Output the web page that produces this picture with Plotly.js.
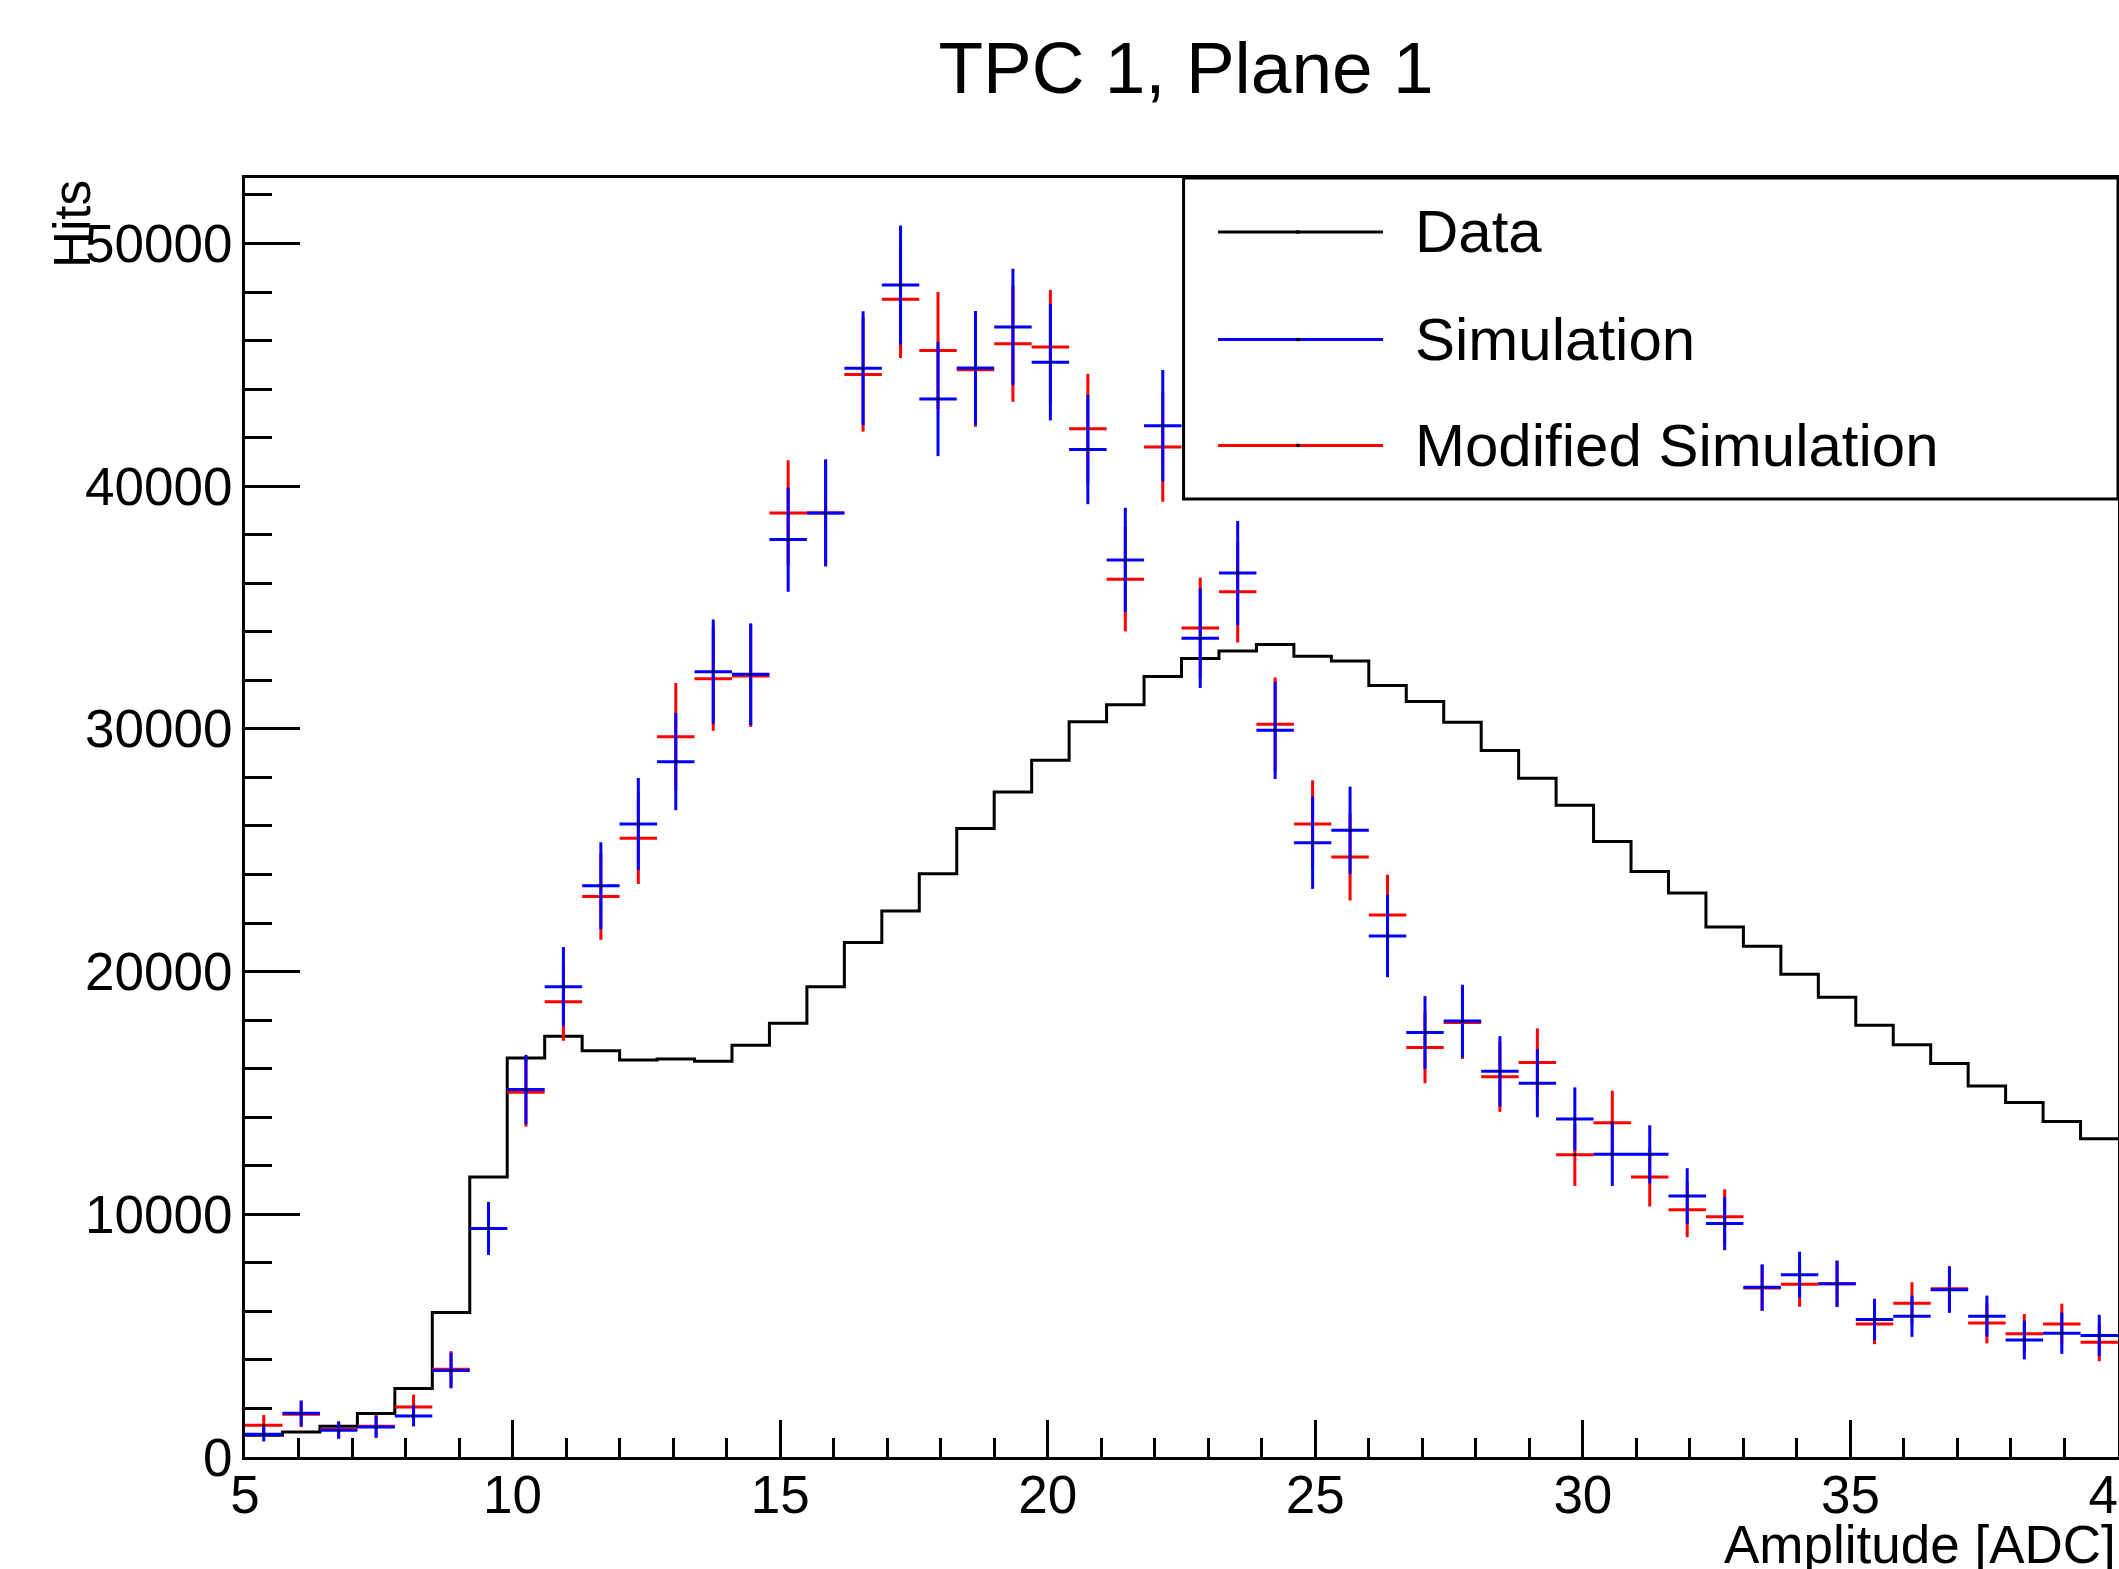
<!DOCTYPE html>
<html>
<head>
<meta charset="utf-8">
<script src="https://cdn.plot.ly/plotly-3.0.1.min.js"></script>
<style>html,body{margin:0;padding:0;background:#fff;}#chart{width:2119px;height:1569px;}</style>
</head>
<body>
<div id="chart"></div>
<script>
// Bin centres (ADC amplitude), bin width 0.7
const binCenters = [5.35, 6.05, 6.75, 7.45, 8.15, 8.85, 9.55, 10.25, 10.95, 11.65,
  12.35, 13.05, 13.75, 14.45, 15.15, 15.85, 16.55, 17.25, 17.95, 18.65,
  19.35, 20.05, 20.75, 21.45, 22.15, 22.85, 23.55, 24.25, 24.95, 25.65,
  26.35, 27.05, 27.75, 28.45, 29.15, 29.85, 30.55, 31.25, 31.95, 32.65,
  33.35, 34.05, 34.75, 35.45, 36.15, 36.85, 37.55, 38.25, 38.95, 39.65];
const binHalfWidth = 0.35;

const dataHits = [900, 1030, 1270, 1790, 2820, 5950, 11540, 16440, 17340, 16740,
  16360, 16400, 16310, 16970, 17870, 19380, 21200, 22500, 24030, 25900,
  27400, 28710, 30300, 31000, 32160, 32900, 33210, 33480, 32990, 32800,
  31790, 31130, 30270, 29110, 27970, 26850, 25360, 24120, 23240, 21840,
  21050, 19890, 18940, 17790, 16990, 16210, 15290, 14610, 13820, 13110];

const simHits = [940, 1800, 1100, 1240, 1690, 3560, 9420, 15140, 19380, 23540,
  26080, 28650, 32360, 32250, 37800, 38900, 44860, 48290, 43590, 44870,
  46560, 45110, 41510, 36960, 42490, 33740, 36420, 29940, 25310, 25820,
  21470, 17490, 17960, 15890, 15400, 13930, 12470, 12470, 10750, 9620,
  6990, 7510, 7140, 5670, 5800, 6890, 5800, 4820, 5100, 5010];
const simErr = [300, 530, 350, 450, 430, 730, 1090, 1430, 1630, 1790,
  1900, 2000, 2150, 2100, 2150, 2200, 2350, 2450, 2350, 2350,
  2400, 2400, 2250, 2150, 2300, 2050, 2150, 2000, 1900, 1800,
  1700, 1500, 1500, 1450, 1400, 1300, 1300, 1200, 1150, 1100,
  950, 950, 950, 850, 850, 950, 850, 800, 850, 850];

const modHits = [1310, 1760, 1130, 1270, 2060, 3620, 9420, 15030, 18760, 23090,
  25490, 29680, 32070, 32180, 38900, 38900, 44600, 47700, 45590, 44800,
  45870, 45740, 42370, 36170, 41620, 34160, 35650, 30190, 26080, 24720,
  22330, 16870, 17900, 15670, 16250, 12450, 13770, 11540, 10190, 9900,
  6960, 7120, 7140, 5480, 6330, 6930, 5520, 5080, 5480, 4730];
const modErr = [420, 530, 350, 460, 510, 740, 1090, 1420, 1610, 1780,
  1880, 2210, 2150, 2100, 2170, 2200, 2350, 2420, 2410, 2350,
  2390, 2350, 2260, 2150, 2260, 2070, 2090, 1930, 1800, 1790,
  1660, 1470, 1500, 1450, 1410, 1280, 1320, 1220, 1130, 1130,
  940, 930, 950, 830, 870, 940, 840, 810, 840, 780];

const seriesNames = ["Data", "Simulation", "Modified Simulation"];
const seriesColors = ["#000000", "#0000ff", "#ff0000"];

const FONT = "Liberation Sans, Arial, Helvetica, sans-serif";

// step outline: extend to outer bin edges
const stepX = [binCenters[0] - binHalfWidth].concat(binCenters, [binCenters[binCenters.length - 1] + binHalfWidth]);
const stepY = [dataHits[0]].concat(dataHits, [dataHits[dataHits.length - 1]]);

function errTrace(name, y, err, color) {
  return {
    type: "scatter", mode: "markers", name: name,
    x: binCenters, y: y,
    marker: {color: "#000000", size: 3},
    error_y: {type: "data", array: err, visible: true, color: color, thickness: 3, width: 0},
    error_x: {type: "constant", value: binHalfWidth, visible: true, color: color, thickness: 3, width: 0},
    showlegend: false, hoverinfo: "skip"
  };
}

const traces = [
  {type: "scatter", mode: "lines", name: seriesNames[0], x: stepX, y: stepY,
   line: {color: seriesColors[0], width: 3, shape: "hvh"}, showlegend: false, hoverinfo: "skip"},
  errTrace(seriesNames[2], modHits, modErr, seriesColors[2]),
  errTrace(seriesNames[1], simHits, simErr, seriesColors[1])
];

// custom ROOT-style legend (paper coords)
const legX0 = 0.5011, legY0 = 0.7490;
const sampleX0 = 0.5195, sampleX1 = 0.6076, textX = 0.6236, dotX = 0.5622;
const rowY = [0.9578, 0.8737, 0.7909];
const shapes = [
  {type: "rect", xref: "paper", yref: "paper", x0: legX0, x1: 1.0, y0: legY0, y1: 1.0,
   line: {color: "#000", width: 3}, fillcolor: "#fff", layer: "above"}
];
const annotations = [];
rowY.forEach((yy, i) => {
  shapes.push({type: "line", xref: "paper", yref: "paper", x0: sampleX0, x1: sampleX1, y0: yy, y1: yy,
    line: {color: seriesColors[i], width: 3}, layer: "above"});
  shapes.push({type: "rect", xref: "paper", yref: "paper", x0: dotX - 0.0009, x1: dotX + 0.0009,
    y0: yy - 0.0013, y1: yy + 0.0013, line: {width: 0}, fillcolor: "#000", layer: "above"});
  annotations.push({xref: "paper", yref: "paper", x: textX, y: yy, xanchor: "left", yanchor: "middle",
    text: seriesNames[i], showarrow: false, font: {family: FONT, size: 60, color: "#000"}});
});
annotations.push({xref: "paper", yref: "paper", x: -0.0924, y: 1.0, xanchor: "center", yanchor: "top",
  text: "Hits", textangle: -90, showarrow: false, font: {family: FONT, size: 51, color: "#000"}});
annotations.push({xref: "paper", yref: "paper", x: 1.0, y: -0.0441, xanchor: "right", yanchor: "top",
  text: "Amplitude [ADC]", showarrow: false, font: {family: FONT, size: 53, color: "#000"}});

const layout = {
  width: 2119, height: 1569,
  margin: {l: 245, r: 1, t: 178, b: 112, pad: 0},
  paper_bgcolor: "#fff", plot_bgcolor: "#fff",
  showlegend: false,
  title: {text: "TPC 1, Plane 1", font: {family: FONT, size: 73, color: "#000"},
          xref: "container", yref: "container", x: 0.5597, y: 0.9567, xanchor: "center", yanchor: "middle"},
  xaxis: {
    range: [5, 40], tick0: 5, dtick: 5, ticks: "inside", ticklen: 37, tickwidth: 3, tickcolor: "#000",
    showline: true, linewidth: 3, linecolor: "#000", mirror: true, showgrid: false, zeroline: false,
    tickfont: {family: FONT, size: 53, color: "#000"}, ticklabelstandoff: -11, ticklabeloverflow: "allow",
    minor: {dtick: 1, ticks: "inside", ticklen: 19, tickwidth: 3, tickcolor: "#000", showgrid: false}
  },
  yaxis: {
    range: [0, 52700], tick0: 0, dtick: 10000, tickformat: "d", ticks: "inside", ticklen: 55, tickwidth: 3, tickcolor: "#000",
    showline: true, linewidth: 3, linecolor: "#000", mirror: true, showgrid: false, zeroline: false,
    tickfont: {family: FONT, size: 53, color: "#000"}, ticklabelstandoff: -1,
    minor: {dtick: 2000, ticks: "inside", ticklen: 27, tickwidth: 3, tickcolor: "#000", showgrid: false}
  },
  shapes: shapes,
  annotations: annotations
};

Plotly.newPlot("chart", traces, layout, {displayModeBar: false, staticPlot: true});
</script>
</body>
</html>
